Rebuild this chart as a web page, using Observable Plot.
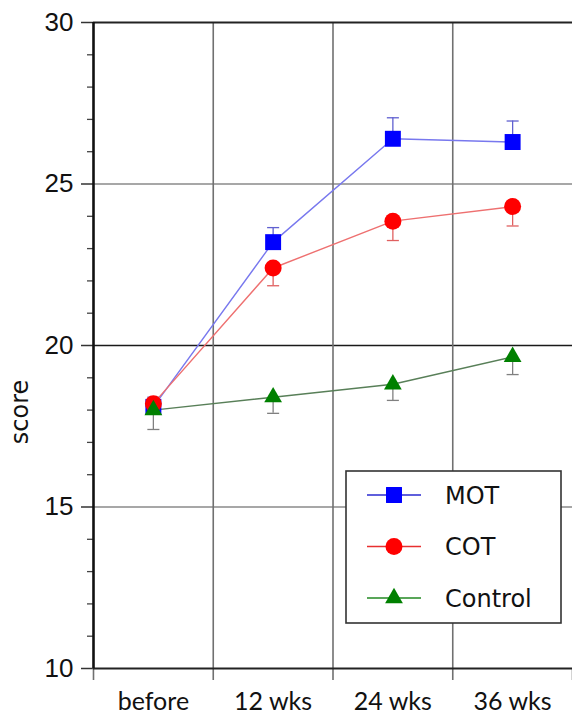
<!DOCTYPE html>
<html>
<head>
<meta charset="utf-8">
<script src="https://cdn.jsdelivr.net/npm/d3@7"></script>
<script src="https://cdn.jsdelivr.net/npm/@observablehq/plot@0.6"></script>
<style>
  html, body { margin: 0; padding: 0; background: #fff; }
  #chart { position: relative; width: 572px; height: 715px; }
</style>
</head>
<body>
<div id="chart"></div>
<script>
const categories = ["before", "12 wks", "24 wks", "36 wks"];
const series = ["MOT", "COT", "Control"];
const motValues = [18.1, 23.2, 26.4, 26.3];
const motErrors = [0.3, 0.45, 0.65, 0.65];
const cotValues = [18.2, 22.4, 23.85, 24.3];
const cotErrors = [0.3, 0.55, 0.6, 0.6];
const controlValues = [18.0, 18.4, 18.8, 19.65];
const controlErrors = [0.6, 0.5, 0.5, 0.55];
const errorDirection = { MOT: 1, COT: -1, Control: -1 };
const yMajorTicks = [10, 15, 20, 25, 30];

const valuesBySeries = { MOT: motValues, COT: cotValues, Control: controlValues };
const errorsBySeries = { MOT: motErrors, COT: cotErrors, Control: controlErrors };

const rows = [];
for (const s of series) {
  categories.forEach((c, i) => {
    const v = valuesBySeries[s][i];
    const e = errorsBySeries[s][i];
    rows.push({ series: s, cat: c, i, value: v, end: v + errorDirection[s] * e });
  });
}

const markerFill = { MOT: "#0000ff", COT: "#ff0000", Control: "#008000" };
const lineStroke = { MOT: "#7878ee", COT: "#ee7070", Control: "#587f58" };
const errStroke = { MOT: "#6060d0", COT: "#e06060", Control: "#808080" };
const markerSymbol = { MOT: "square", COT: "circle", Control: "triangle" };
const markerR = { MOT: 9, COT: 8.5, Control: 6.6 };

const capSymbol = {
  draw(context, size) {
    const w = Math.sqrt(size);
    context.moveTo(-w, 0);
    context.lineTo(w, 0);
  }
};

const boundaries = d3.range(-0.5, categories.length, 1);
const minorTicks = d3.range(10, 31).filter(v => v % 5 !== 0);

const marks = [
  Plot.ruleY([15, 25], { stroke: "#8a8a8a", strokeWidth: 1.3 }),
  Plot.ruleY([20], { stroke: "#1a1a1a", strokeWidth: 1.6 }),
  Plot.ruleX(boundaries.filter(b => b > -0.5 && b < categories.length - 0.5), { y1: 10, y2: 30, stroke: "#707070", strokeWidth: 1.6 }),
  Plot.axisY(yMajorTicks, {
    tickSize: 12, tickPadding: 8, fontSize: 26, stroke: "#333", strokeWidth: 1.5,
    fill: "#111", label: null, fontFamily: "Liberation Sans, Arial, sans-serif"
  }),
  Plot.axisY(minorTicks, { tickSize: 6, tickFormat: () => "", stroke: "#444", strokeWidth: 1.3, label: null }),
  Plot.axisX(boundaries, { tickSize: 12, tickFormat: () => "", stroke: "#707070", strokeWidth: 1.6, label: null }),
  Plot.axisX([0, 1, 2, 3], {
    tickSize: 0, tickPadding: 24, tickFormat: i => categories[i], fontSize: 25,
    fill: "#111", label: null, fontFamily: "Lato, Open Sans, sans-serif"
  }),
  Plot.ruleY([30], { x1: -0.5, x2: 3.5, stroke: "#222", strokeWidth: 2 }),
  Plot.ruleY([10], { x1: -0.5, x2: 3.5, stroke: "#222", strokeWidth: 2 }),
  Plot.ruleX([-0.5], { y1: 10, y2: 30, stroke: "#111", strokeWidth: 2.6 })
];

for (const s of series) {
  const data = rows.filter(r => r.series === s);
  marks.push(
    Plot.ruleX(data, { x: "i", y1: "value", y2: "end", stroke: errStroke[s], strokeWidth: 1.3 }),
    Plot.dot(data, { x: "i", y: "end", symbol: capSymbol, r: 3.4, stroke: errStroke[s], strokeWidth: 1.3, fill: "none" }),
    Plot.line(data, { x: "i", y: "value", stroke: lineStroke[s], strokeWidth: 1.4 })
  );
}
for (const s of series) {
  const data = rows.filter(r => r.series === s);
  marks.push(
    Plot.dot(data, { x: "i", y: "value", symbol: markerSymbol[s], r: markerR[s], fill: markerFill[s], stroke: "none" })
  );
}

const svg = Plot.plot({
  width: 572,
  height: 715,
  marginLeft: 93,
  marginRight: 0,
  marginTop: 22,
  marginBottom: 47,
  x: { domain: [-0.5, 3.5], axis: null },
  y: { domain: [10, 30], axis: null },
  style: { background: "#fff", overflow: "visible" },
  marks
});

const root = d3.select(svg);
// y-axis title
root.append("text")
  .attr("transform", "translate(28,412) rotate(-90)")
  .attr("text-anchor", "middle")
  .attr("font-family", "DejaVu Sans, sans-serif")
  .attr("font-size", 24)
  .attr("fill", "#111")
  .text("score");

// legend
const lg = root.append("g");
lg.append("rect")
  .attr("x", 346).attr("y", 471).attr("width", 215).attr("height", 152)
  .attr("fill", "#fff").attr("stroke", "#333").attr("stroke-width", 1.6);
const legendLine = { MOT: "#2a2ad0", COT: "#e83030", Control: "#228822" };
series.forEach((s, k) => {
  const cy = 495 + k * 51.5;
  lg.append("line").attr("x1", 367).attr("x2", 421).attr("y1", cy).attr("y2", cy)
    .attr("stroke", legendLine[s]).attr("stroke-width", 1.5);
  const sym = { square: d3.symbolSquare, circle: d3.symbolCircle, triangle: d3.symbolTriangle }[markerSymbol[s]];
  lg.append("path")
    .attr("transform", `translate(394,${cy})`)
    .attr("d", d3.symbol(sym, Math.PI * markerR[s] * markerR[s])())
    .attr("fill", markerFill[s]);
  lg.append("text").attr("x", 445).attr("y", cy).attr("dy", "0.36em")
    .attr("text-anchor", "start")
    .attr("font-family", "DejaVu Sans, sans-serif")
    .attr("font-size", 24).attr("fill", "#111").text(s);
});

document.getElementById("chart").appendChild(svg);
</script>
</body>
</html>
